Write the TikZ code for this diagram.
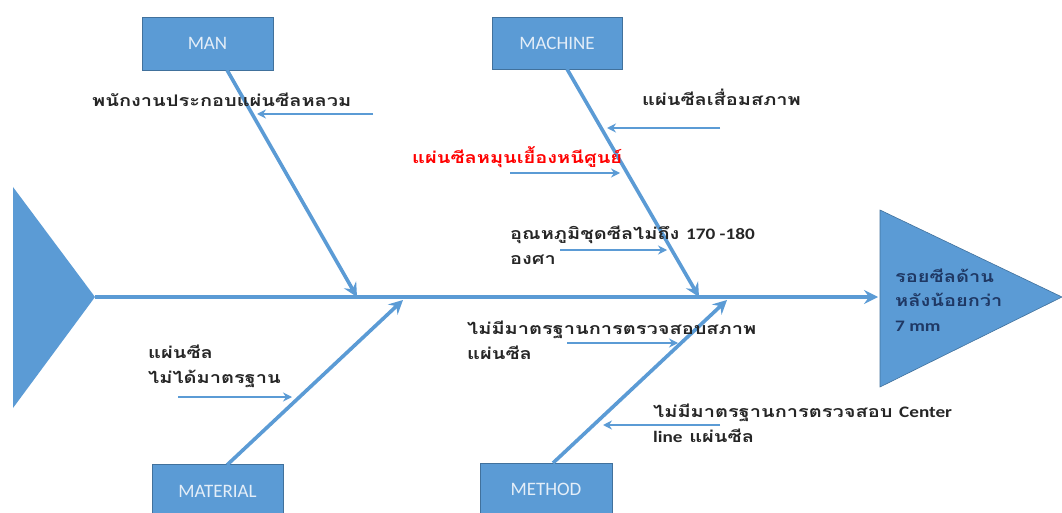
\documentclass[tikz,border=0pt]{standalone}
\usepackage{fontspec}
\setmainfont{Carlito}
\newfontfamily\thai[Script=Thai,FakeStretch=1.25]{Loma}
\newfontfamily\lat{Carlito}
\newfontfamily\latw[FakeStretch=1.2]{Carlito}
\usetikzlibrary{arrows.meta}
\definecolor{bl}{HTML}{5B9BD5}
\definecolor{bld}{HTML}{41719C}
\definecolor{txt}{HTML}{262626}
\definecolor{boxtxt}{HTML}{E4EEF8}
\definecolor{headtxt}{HTML}{1F3864}
\tikzset{
  catbox/.style={fill=bl, draw=bld, line width=0.8pt, minimum width=131pt, minimum height=53pt,
    inner sep=0pt, text=boxtxt, font=\lat\fontsize{19}{22}\selectfont},
  bone/.style={draw=bl, line width=3.6pt, -{Stealth[length=14pt,width=14pt,inset=5pt]}},
  twig/.style={draw=bl, line width=1.6pt, -{Stealth[length=9pt,width=9pt,inset=3pt]}},
  cause/.style={inner sep=0pt, anchor=west, align=left, text=txt,
    font=\thai\bfseries\fontsize{16}{25}\selectfont},
}
\begin{document}
\begin{tikzpicture}[x=1pt,y=-1pt]
\useasboundingbox (0,0) rectangle (1062,513);
\clip (0,0) rectangle (1062,513);
\fill[white] (0,0) rectangle (1062,513);

% tail and head
\fill[bl] (13,187) -- (95,297) -- (13,408) -- cycle;
\coordinate (tail) at (95,297);
\fill[bl, draw=bld, line width=0.6pt] (880,210) -- (1062,297) -- (880,387) -- cycle;
\coordinate (head) at (878,297);
\node[inner sep=0pt, anchor=west, align=left, text=headtxt,
  font=\thai\bfseries\fontsize{16}{24.5}\selectfont] (effect) at (895,300)
  {รอยซีลด้าน\\หลังน้อยกว่า\\{\latw 7 mm}};

% spine
\draw[bone] (tail) -- (head);

% category boxes
\node[catbox] (man) at (207.5,43.5) {MAN};
\node[catbox, minimum width=130pt, minimum height=52pt] (machine) at (557,43) {MACHINE};
\node[catbox] (material) at (217.5,491) {MATERIAL};
\node[catbox, minimum width=132pt, minimum height=52pt] (method) at (546,489) {METHOD};

% bone ends
\coordinate (manS) at (227,70);     \coordinate (manE) at (357,297);
\coordinate (macS) at (567,69);     \coordinate (macE) at (699,297);
\coordinate (matS) at (227,465);    \coordinate (matE) at (403,300);
\coordinate (metS) at (553,463);    \coordinate (metE) at (727,300);
\draw[bone] (manS) -- (manE);
\draw[bone] (macS) -- (macE);
\draw[bone] (matS) -- (matE);
\draw[bone] (metS) -- (metE);

% causes
\node[cause] (c1) at (92,100) {พนักงานประกอบแผ่นซีลหลวม};
\coordinate (c1a) at (373,114); \coordinate (c1b) at (257,114);
\draw[twig] (c1a) -- (c1b);

\node[cause] (c2) at (642,97) {แผ่นซีลเสื่อมสภาพ};
\coordinate (c2a) at (720,128); \coordinate (c2b) at (607,128);
\draw[twig] (c2a) -- (c2b);

\node[cause, text=red] (c3) at (412,157) {แผ่นซีลหมุนเยื้องหนีศูนย์};
\coordinate (c3a) at (510,173); \coordinate (c3b) at (620,173);
\draw[twig] (c3a) -- (c3b);

\node[cause] (c4) at (510,245) {อุณหภูมิชุดซีลไม่ถึง {\latw 170 -180}\\องศา};
\coordinate (c4a) at (560,250); \coordinate (c4b) at (667,250);
\draw[twig] (c4a) -- (c4b);

\node[cause] (c5) at (467,340) {ไม่มีมาตรฐานการตรวจสอบสภาพ\\แผ่นซีล};
\coordinate (c5a) at (567,343); \coordinate (c5b) at (678,343);
\draw[twig] (c5a) -- (c5b);

\node[cause] (c6) at (653,423) {ไม่มีมาตรฐานการตรวจสอบ {\latw Center}\\{\latw line} แผ่นซีล};
\coordinate (c6a) at (720,425); \coordinate (c6b) at (603,425);
\draw[twig] (c6a) -- (c6b);

\node[cause] (c7) at (148,366) {แผ่นซีล\\ไม่ได้มาตรฐาน};
\coordinate (c7a) at (178,397); \coordinate (c7b) at (292,397);
\draw[twig] (c7a) -- (c7b);
\end{tikzpicture}
\end{document}
